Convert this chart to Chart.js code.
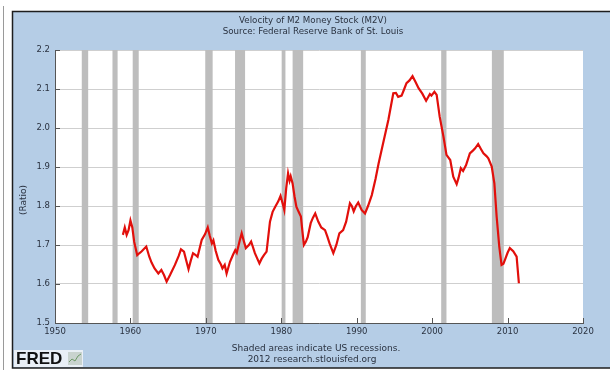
<!DOCTYPE html>
<html>
<head>
<meta charset="utf-8">
<script src="https://cdn.jsdelivr.net/npm/chart.js@4/dist/chart.umd.min.js"></script>
<style>
html,body{margin:0;padding:0;background:#fff;}
#wrap{width:610px;height:370px;position:relative;}
</style>
</head>
<body>
<div id="wrap"><canvas id="c" width="610" height="370"></canvas></div>
<script>
// ---- data ----
const titleText = "Velocity of M2 Money Stock (M2V)";
const subtitleText = "Source: Federal Reserve Bank of St. Louis";
const yAxisTitle = "(Ratio)";
const footnote1 = "Shaded areas indicate US recessions.";
const footnote2 = "2012 research.stlouisfed.org";

const years = [1959.0,1959.25,1959.5,1959.75,1960.0,1960.25,1960.5,1960.9,1961.25,1961.5,1962.1,1962.5,1962.8,1963.2,1963.7,1964.1,1964.45,1964.8,1965.25,1965.9,1966.4,1966.7,1967.1,1967.4,1967.7,1968.0,1968.3,1968.6,1968.9,1969.45,1969.9,1970.25,1970.5,1970.8,1971.0,1971.3,1971.65,1972.0,1972.2,1972.5,1972.75,1973.2,1973.6,1973.9,1974.1,1974.5,1974.75,1975.0,1975.3,1975.7,1976.0,1976.5,1977.1,1977.4,1977.7,1978.05,1978.5,1978.85,1979.2,1979.6,1979.9,1980.2,1980.4,1980.65,1980.9,1981.1,1981.25,1981.5,1981.75,1982.0,1982.3,1982.6,1982.8,1983.0,1983.25,1983.5,1983.9,1984.2,1984.5,1984.9,1985.3,1985.8,1986.1,1986.4,1986.9,1987.3,1987.7,1988.2,1988.6,1989.1,1989.35,1989.6,1989.9,1990.2,1990.65,1991.1,1991.5,1992.0,1992.5,1992.9,1993.5,1994.2,1994.85,1995.2,1995.5,1995.95,1996.3,1996.6,1997.0,1997.4,1997.8,1998.2,1998.7,1999.2,1999.5,1999.7,1999.9,2000.3,2000.6,2001.0,2001.5,2001.9,2002.4,2002.8,2003.25,2003.5,2003.8,2004.1,2004.5,2005.0,2005.4,2005.7,2006.1,2006.5,2006.8,2007.2,2007.45,2007.9,2008.25,2008.55,2008.9,2009.2,2009.45,2009.65,2010.0,2010.3,2010.75,2011.2,2011.5];
const m2v = [1.726,1.745,1.726,1.738,1.763,1.745,1.708,1.674,1.680,1.684,1.696,1.670,1.655,1.640,1.627,1.636,1.623,1.606,1.623,1.649,1.672,1.689,1.683,1.660,1.638,1.660,1.679,1.675,1.670,1.713,1.728,1.745,1.725,1.704,1.712,1.685,1.662,1.650,1.640,1.649,1.627,1.657,1.675,1.687,1.680,1.712,1.730,1.712,1.692,1.700,1.709,1.679,1.653,1.665,1.674,1.683,1.760,1.785,1.798,1.812,1.826,1.805,1.790,1.845,1.884,1.865,1.876,1.858,1.825,1.798,1.785,1.773,1.735,1.700,1.708,1.720,1.756,1.770,1.781,1.760,1.745,1.738,1.722,1.704,1.679,1.700,1.730,1.738,1.760,1.807,1.800,1.786,1.800,1.809,1.790,1.781,1.800,1.828,1.870,1.909,1.961,2.021,2.089,2.090,2.080,2.083,2.100,2.115,2.122,2.133,2.118,2.102,2.088,2.070,2.080,2.087,2.083,2.093,2.085,2.029,1.978,1.931,1.918,1.875,1.856,1.872,1.897,1.890,1.905,1.935,1.942,1.948,1.959,1.945,1.935,1.928,1.922,1.901,1.858,1.773,1.696,1.649,1.652,1.662,1.680,1.692,1.684,1.670,1.602];

// US recessions (start, end) as decimal years
const recessionStart = [1953.55,1957.62,1960.3,1969.92,1973.87,1980.05,1981.5,1990.55,2001.2,2007.92];
const recessionEnd   = [1954.4,1958.3,1961.1,1970.9,1975.2,1980.55,1982.9,1991.2,2001.9,2009.5];

const xTicks = [1950,1960,1970,1980,1990,2000,2010,2020];
const yTicks = [1.5,1.6,1.7,1.8,1.9,2.0,2.1,2.2];

const BLUE = '#b5cde6';
const TXT = '#2a3240';
const FONT = 'DejaVu Sans';

const framePlugin = {
  id: 'frame',
  beforeDraw(chart){
    const ctx = chart.ctx, a = chart.chartArea;
    ctx.save();
    ctx.fillStyle = '#ffffff';
    ctx.fillRect(0,0,chart.width,chart.height);
    ctx.fillStyle = BLUE;
    ctx.fillRect(12,11,chart.width-12,357);
    ctx.strokeStyle = '#9a9a9a';
    ctx.lineWidth = 1;
    ctx.beginPath(); ctx.moveTo(3.5,6); ctx.lineTo(3.5,370); ctx.stroke();
    ctx.strokeStyle = '#1e1e1e';
    ctx.lineWidth = 1.5;
    ctx.beginPath();
    ctx.moveTo(chart.width,11.5); ctx.lineTo(12.5,11.5); ctx.lineTo(12.5,368); ctx.lineTo(chart.width,368);
    ctx.stroke();
    ctx.fillStyle = '#ffffff';
    ctx.fillRect(a.left,a.top,a.right-a.left,a.bottom-a.top);
    ctx.restore();
  },
  beforeDatasetsDraw(chart){
    const ctx = chart.ctx, a = chart.chartArea, xs = chart.scales.x;
    ctx.save();
    ctx.fillStyle = '#bdbdbd';
    for(let i=0;i<recessionStart.length;i++){
      const x0 = xs.getPixelForValue(recessionStart[i]);
      const x1 = xs.getPixelForValue(recessionEnd[i]);
      ctx.fillRect(x0,a.top,x1-x0,a.bottom-a.top);
    }
    ctx.restore();
  },
  afterDraw(chart){
    const ctx = chart.ctx, a = chart.chartArea, xs = chart.scales.x, ys = chart.scales.y;
    ctx.save();
    // inward tick marks
    ctx.strokeStyle = '#555';
    ctx.lineWidth = 1;
    ctx.beginPath();
    yTicks.forEach(v=>{const y=Math.round(ys.getPixelForValue(v))+0.5; ctx.moveTo(a.left,y); ctx.lineTo(a.left+5,y);});
    xTicks.forEach(v=>{const x=Math.round(xs.getPixelForValue(v))+0.5; ctx.moveTo(x,a.bottom); ctx.lineTo(x,a.bottom-5);});
    ctx.stroke();
    // titles
    ctx.fillStyle = TXT;
    ctx.textAlign = 'center';
    ctx.textBaseline = 'middle';
    ctx.font = '8.7px "'+FONT+'"';
    ctx.fillText(titleText, 313, 21);
    ctx.fillText(subtitleText, 313, 32);
    ctx.font = '9px "'+FONT+'"';
    ctx.fillText(footnote1, 316, 349);
    ctx.fillText(footnote2, 312, 360);
    // y axis title
    ctx.save();
    ctx.translate(24, 200);
    ctx.rotate(-Math.PI/2);
    ctx.fillText(yAxisTitle, 0, 0);
    ctx.restore();
    // FRED logo
    ctx.fillStyle = '#e9eff6';
    ctx.fillRect(14,350,69,17);
    ctx.fillStyle = '#111';
    ctx.textAlign = 'left';
    ctx.font = 'bold 17px "Liberation Sans"';
    ctx.fillText('FRED', 16, 359);
    ctx.fillStyle = '#c9d3cf';
    ctx.fillRect(68,352,14,13);
    ctx.strokeStyle = '#6f9a6a';
    ctx.lineWidth = 1;
    ctx.beginPath(); ctx.moveTo(69,362); ctx.lineTo(72,359); ctx.lineTo(75,361); ctx.lineTo(78,356); ctx.lineTo(81,354); ctx.stroke();
    ctx.restore();
  }
};

new Chart(document.getElementById('c'), {
  type: 'line',
  data: {
    datasets: [{
      data: years.map((y,i)=>({x:y, y:m2v[i]})),
      borderColor: '#e20f0b',
      borderWidth: 2.2,
      pointRadius: 0,
      tension: 0,
      fill: false
    }]
  },
  options: {
    responsive: false,
    animation: false,
    events: [],
    layout: { padding: { left: 0, top: 50, right: 27, bottom: 0 } },
    plugins: { legend: { display: false }, tooltip: { enabled: false }, title: { display: false } },
    scales: {
      x: {
        type: 'linear', min: 1950, max: 2020,
        afterFit(s){ s.height = 47; },
        afterBuildTicks(s){ s.ticks = xTicks.map(v=>({value:v})); },
        grid: { display: false, drawTicks: false },
        border: { display: true, color: '#555', width: 1 },
        ticks: { color: TXT, font: { family: FONT, size: 8.5 }, padding: 4, maxRotation: 0, callback: v => String(v) }
      },
      y: {
        type: 'linear', min: 1.5, max: 2.2,
        afterFit(s){ s.width = 55; },
        afterBuildTicks(s){ s.ticks = yTicks.map(v=>({value:v})); },
        grid: { color: '#cfcfcf', lineWidth: 1, drawTicks: false },
        border: { display: true, color: '#555', width: 1 },
        ticks: { color: TXT, font: { family: FONT, size: 8.5 }, padding: 5, callback: v => v.toFixed(1) }
      }
    }
  },
  plugins: [framePlugin]
});
</script>
</body>
</html>
